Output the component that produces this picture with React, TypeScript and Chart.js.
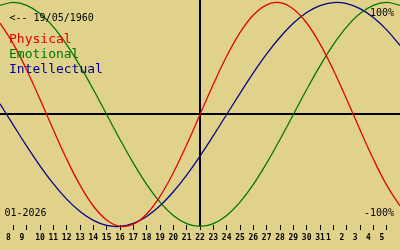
import { useEffect, useRef } from 'react';
import { Chart, registerables } from 'chart.js';

Chart.register(...registerables);

// Title / annotation texts
const birthLabel = '<-- 19/05/1960';
const monthLabel = '01-2026';
const topLabel = '100%';
const bottomLabel = '-100%';

// Series
const seriesNames = ['Physical', 'Emotional', 'Intellectual'];
const seriesColors = ['#e00000', '#007400', '#00008c'];

// Day offsets relative to the marked day (22 Jan 2026)
const dayOffsets = [-15, -14, -13, -12, -11, -10, -9, -8, -7, -6, -5, -4, -3, -2, -1, 0, 1, 2, 3, 4, 5, 6, 7, 8, 9, 10, 11, 12, 13, 14, 15];

const physical = [0.817, 0.631, 0.398, 0.136, -0.136, -0.398, -0.631, -0.817, -0.942, -0.998, -0.979, -0.888, -0.731, -0.52, -0.27, 0, 0.27, 0.52, 0.731, 0.888, 0.979, 0.998, 0.942, 0.817, 0.631, 0.398, 0.136, -0.136, -0.398, -0.631, -0.817];
const emotional = [0.975, 1, 0.975, 0.901, 0.782, 0.624, 0.434, 0.223, 0, -0.223, -0.434, -0.624, -0.782, -0.901, -0.975, -1, -0.975, -0.901, -0.782, -0.624, -0.434, -0.223, 0, 0.223, 0.434, 0.624, 0.782, 0.901, 0.975, 1, 0.975];
const intellectual = [0.095, -0.095, -0.282, -0.458, -0.618, -0.756, -0.866, -0.945, -0.99, -0.999, -0.972, -0.91, -0.815, -0.69, -0.541, -0.372, -0.189, 0, 0.189, 0.372, 0.541, 0.69, 0.815, 0.91, 0.972, 0.999, 0.99, 0.945, 0.866, 0.756, 0.618];

// Tick positions and labels (day of month)
const tickOffsets = [-14, -13, -12, -11, -10, -9, -8, -7, -6, -5, -4, -3, -2, -1, 0, 1, 2, 3, 4, 5, 6, 7, 8, 9, 10, 11, 12, 13, 14];
const dayLabels = ['8', '9', '10', '11', '12', '13', '14', '15', '16', '17', '18', '19', '20', '21', '22', '23', '24', '25', '26', '27', '28', '29', '30', '31', '1', '2', '3', '4', '5'];

const MONO = '"DejaVu Sans Mono", monospace';

const overlayPlugin = {
  id: 'bioOverlay',
  beforeDatasetsDraw(chart: any) {
    const { ctx, chartArea, scales } = chart;
    const x0 = scales.x.getPixelForValue(0);
    const y0 = scales.y.getPixelForValue(0);
    const yb = scales.y.getPixelForValue(-1);
    ctx.save();
    ctx.strokeStyle = '#000';
    ctx.lineWidth = 2;
    ctx.beginPath();
    ctx.moveTo(0, Math.round(y0));
    ctx.lineTo(chart.width, Math.round(y0));
    ctx.moveTo(Math.round(x0), chartArea.top);
    ctx.lineTo(Math.round(x0), Math.round(yb) + 0.5);
    ctx.stroke();
    ctx.restore();
  },
  afterDatasetsDraw(chart: any) {
    const { ctx } = chart;
    ctx.save();
    ctx.textBaseline = 'alphabetic';
    ctx.textAlign = 'left';
    ctx.fillStyle = '#000';
    ctx.font = `10px ${MONO}`;
    ctx.fillText(birthLabel, 9.5, 21);
    ctx.fillText(monthLabel, 4.5, 216);
    ctx.textAlign = 'right';
    ctx.fillText(topLabel, 394, 16);
    ctx.fillText(bottomLabel, 394, 216);
    ctx.textAlign = 'left';
    ctx.font = `13px ${MONO}`;
    seriesNames.forEach((n, i) => {
      ctx.fillStyle = seriesColors[i];
      ctx.fillText(n, 9, 42.5 + i * 15);
    });
    ctx.restore();
  },
};

export default function App() {
  const ref = useRef<HTMLCanvasElement | null>(null);
  useEffect(() => {
    if (!ref.current) return;
    const series = [physical, emotional, intellectual];
    const chart = new Chart(ref.current, {
      type: 'line',
      data: {
        datasets: series.map((vals, i) => ({
          label: seriesNames[i],
          data: vals.map((v, j) => ({ x: dayOffsets[j], y: v })),
          borderColor: seriesColors[i],
          borderWidth: 1.25,
          pointRadius: 0,
          tension: 0.4,
          fill: false,
          clip: false as any,
        })),
      },
      options: {
        animation: false,
        responsive: false,
        devicePixelRatio: 1,
        layout: { padding: 0 },
        plugins: { legend: { display: false }, tooltip: { enabled: false } },
        scales: {
          x: {
            type: 'linear',
            min: -15,
            max: 15,
            position: 'bottom',
            afterBuildTicks: (s: any) => {
              s.ticks = tickOffsets.map((v) => ({ value: v }));
            },
            afterFit: (s: any) => {
              s.height = 25;
            },
            border: { display: false },
            grid: { drawOnChartArea: false, drawTicks: true, tickLength: 5, color: '#000', lineWidth: 1 },
            ticks: {
              color: '#000',
              padding: 3,
              maxRotation: 0,
              autoSkip: false,
              font: { family: MONO, size: 8, weight: 'bold' },
              callback: (value: any) => {
                const s = dayLabels[Number(value) + 14] ?? '';
                return s.length === 1 ? s + '  ' : s;
              },
            },
          },
          y: { display: false, min: -0.98661, max: 1.02232 },
        },
      },
      plugins: [overlayPlugin],
    });
    return () => chart.destroy();
  }, []);
  return (
    <div style={{ position: 'fixed', left: 0, top: 0, width: 400, height: 250, background: '#e0d28a' }}>
      <canvas ref={ref} width={400} height={250} style={{ display: 'block' }} />
    </div>
  );
}
